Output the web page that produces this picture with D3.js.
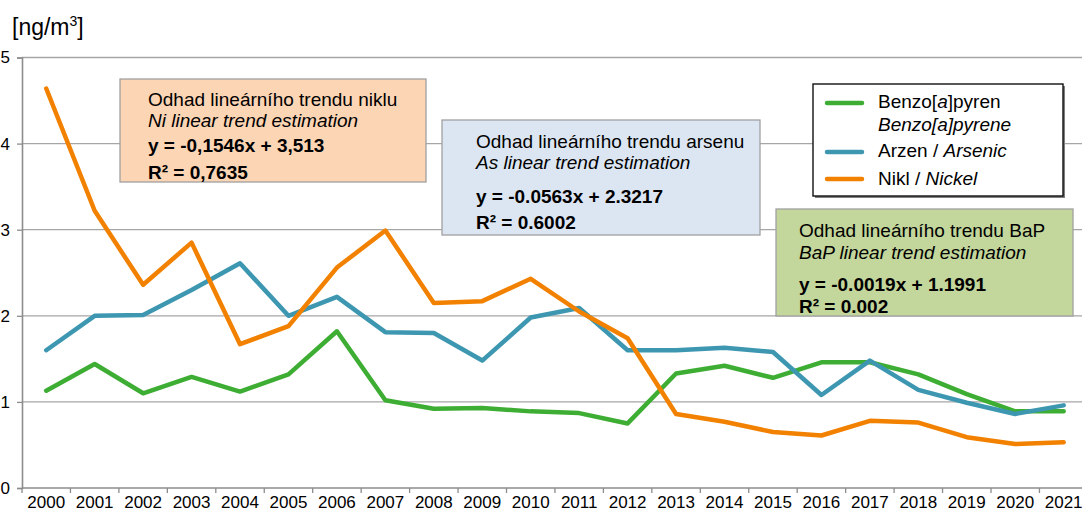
<!DOCTYPE html>
<html>
<head>
<meta charset="utf-8">
<script src="https://cdn.jsdelivr.net/npm/d3@7"></script>
<style>
  html, body { margin: 0; padding: 0; background: #fff; }
  svg { display: block; font-family: "Liberation Sans", Arial, sans-serif; }
</style>
</head>
<body>
<div id="chart"></div>
<script>
// data
const years = d3.range(2000, 2022).map(String);
const bapValues = [1.13, 1.44, 1.10, 1.29, 1.12, 1.32, 1.82, 1.02, 0.92, 0.93, 0.89,
                   0.87, 0.75, 1.33, 1.42, 1.28, 1.46, 1.46, 1.32, 1.09, 0.89, 0.89];
const asValues  = [1.60, 2.00, 2.01, 2.30, 2.61, 2.00, 2.22, 1.81, 1.80, 1.48, 1.98,
                   2.09, 1.60, 1.60, 1.63, 1.58, 1.08, 1.48, 1.14, 0.99, 0.86, 0.96];
const niValues  = [4.64, 3.22, 2.36, 2.85, 1.67, 1.88, 2.56, 2.99, 2.15, 2.17, 2.43,
                   2.05, 1.74, 0.86, 0.77, 0.65, 0.61, 0.78, 0.76, 0.59, 0.51, 0.53];
const yTicks = [0, 1, 2, 3, 4, 5];

const seriesNames = ['bap', 'as', 'ni'];
const seriesColors = {bap: '#3dae33', as: '#3d97b1', ni: '#f28100'};

// trend boxes text
const niBoxLines  = ['Odhad lineárního trendu niklu', 'Ni linear trend estimation', 'y = -0,1546x + 3,513', 'R² = 0,7635'];
const asBoxLines  = ['Odhad lineárního trendu arsenu', 'As linear trend estimation', 'y = -0.0563x + 2.3217', 'R² = 0.6002'];
const bapBoxLines = ['Odhad lineárního trendu BaP', 'BaP linear trend estimation', 'y = -0.0019x + 1.1991', 'R² = 0.002'];

const width = 1082, height = 511;
const margin = {left: 22, bottom: 488, top: 57.5};
const step = 48.45;
const boxFont = 19;

const svg = d3.select('#chart').append('svg')
  .attr('width', width).attr('height', height);

const xScale = d3.scaleBand()
  .domain(years)
  .range([margin.left, margin.left + years.length * step])
  .padding(0);
const yScale = d3.scaleLinear()
  .domain([0, 5])
  .range([margin.bottom, margin.top]);
const xc = d => xScale(d) + xScale.bandwidth() / 2;

// gridlines
svg.append('g').selectAll('line').data(yTicks.filter(d => d > 0)).join('line')
  .attr('x1', margin.left).attr('x2', width)
  .attr('y1', d => yScale(d)).attr('y2', d => yScale(d))
  .attr('stroke', '#a6a6a6').attr('stroke-width', 1.3);

// y axis
const yAxis = d3.axisLeft(yScale).tickValues(yTicks).tickFormat(d3.format('d'))
  .tickSize(5).tickPadding(7);
const yg = svg.append('g').attr('transform', 'translate(' + margin.left + ',0)').call(yAxis);
yg.select('.domain').attr('stroke', '#8c8c8c').attr('stroke-width', 1.6);
yg.selectAll('.tick line').attr('stroke', '#8c8c8c').attr('stroke-width', 1.3);
yg.selectAll('.tick text').attr('font-size', 17).attr('fill', '#000')
  .attr('font-family', '"Liberation Sans", Arial, sans-serif');

// x axis: ticks between categories
const xg = svg.append('g').attr('transform', 'translate(0,' + margin.bottom + ')');
xg.append('line').attr('x1', margin.left).attr('x2', width).attr('y1', 0).attr('y2', 0)
  .attr('stroke', '#8c8c8c').attr('stroke-width', 1.6);
xg.selectAll('.xt').data(years).join('line').attr('class', 'xt')
  .attr('x1', d => xScale(d)).attr('x2', d => xScale(d))
  .attr('y1', 0).attr('y2', 5)
  .attr('stroke', '#8c8c8c').attr('stroke-width', 1.3);
xg.selectAll('.xl').data(years).join('text').attr('class', 'xl')
  .attr('x', d => xc(d)).attr('y', 20)
  .attr('text-anchor', 'middle').attr('font-size', 17)
  .text(d => d);

// unit label
const unit = svg.append('text').attr('x', 12).attr('y', 35).attr('font-size', 23);
unit.append('tspan').text('[ng/m');
unit.append('tspan').attr('font-size', 14).attr('dy', -9).text('3');
unit.append('tspan').attr('dy', 9).text(']');

// lines: green, blue, orange (orange on top)
const valuesBy = {bap: bapValues, as: asValues, ni: niValues};
const line = d3.line().x(d => xc(d.year)).y(d => yScale(d.value));
svg.append('g').selectAll('path').data(seriesNames).join('path')
  .attr('d', k => line(years.map((y, i) => ({year: y, value: valuesBy[k][i]}))))
  .attr('fill', 'none')
  .attr('stroke', k => seriesColors[k])
  .attr('stroke-width', 4.5)
  .attr('stroke-linejoin', 'round')
  .attr('stroke-linecap', 'round');

// trend boxes
const boxes = [
  {lines: niBoxLines, fill: '#fcd5b5', x: 120, y: 79, w: 306, h: 103, tx: 148, base: [106, 127, 152, 179]},
  {lines: asBoxLines, fill: '#dce6f2', x: 442, y: 120, w: 318, h: 115, tx: 476, base: [148, 169, 203, 229]},
  {lines: bapBoxLines, fill: '#c3d69b', x: 776, y: 209, w: 297, h: 107, tx: 799, base: [237, 259, 291, 313]}
];
boxes.forEach(b => {
  const g = svg.append('g');
  g.append('rect').attr('x', b.x).attr('y', b.y).attr('width', b.w).attr('height', b.h)
    .attr('fill', b.fill).attr('stroke', '#a0a0a0').attr('stroke-width', 1.3);
  g.selectAll('text').data(b.lines).join('text')
    .attr('x', b.tx).attr('y', (d, i) => b.base[i])
    .attr('font-size', boxFont)
    .attr('font-style', (d, i) => i === 1 ? 'italic' : 'normal')
    .attr('font-weight', (d, i) => i >= 2 ? 'bold' : 'normal')
    .text(d => d);
});

// legend
const lg = svg.append('g');
lg.append('rect').attr('x', 815).attr('y', 86).attr('width', 250).attr('height', 112).attr('fill', '#7f7f7f');
lg.append('rect').attr('x', 813).attr('y', 84).attr('width', 250).attr('height', 112)
  .attr('fill', '#fff').attr('stroke', '#111').attr('stroke-width', 1.4);
const legendItems = [
  {key: 'bap', ly: 103, rows: [[['Benzo[', false], ['a', true], [']pyren', false]], [['Benzo[a]pyrene', true]]], ty: [108, 131]},
  {key: 'as', ly: 152, rows: [[['Arzen / ', false], ['Arsenic', true]]], ty: [157]},
  {key: 'ni', ly: 179, rows: [[['Nikl / ', false], ['Nickel', true]]], ty: [185]}
];
legendItems.forEach(it => {
  lg.append('line').attr('x1', 827).attr('x2', 862).attr('y1', it.ly).attr('y2', it.ly)
    .attr('stroke', seriesColors[it.key]).attr('stroke-width', 4.5).attr('stroke-linecap', 'round');
  it.rows.forEach((row, r) => {
    const t = lg.append('text').attr('x', 878).attr('y', it.ty[r]).attr('font-size', boxFont);
    row.forEach(p => t.append('tspan').attr('font-style', p[1] ? 'italic' : 'normal').text(p[0]));
  });
});
</script>
</body>
</html>
